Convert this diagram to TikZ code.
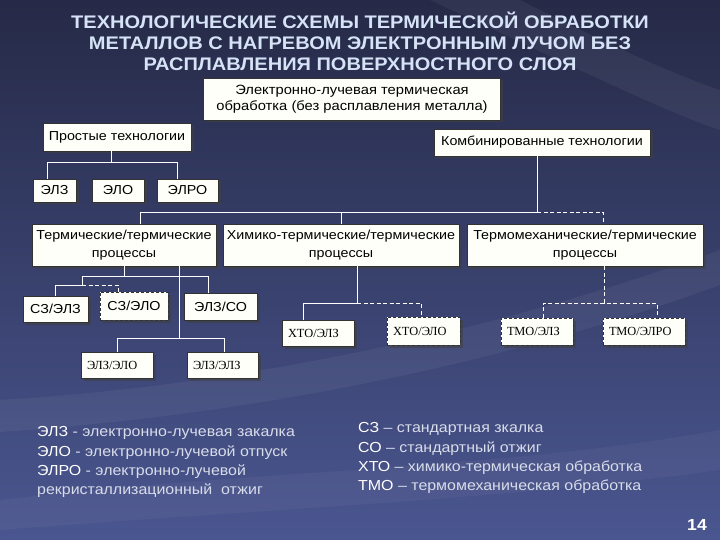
\documentclass[tikz,border=0pt]{standalone}
\usepackage{fontspec}
\setmainfont[FakeStretch=1.1]{Liberation Sans}
\newfontfamily\tmsfont{Liberation Serif}
\usetikzlibrary{positioning,shadows}
\definecolor{bgtop}{HTML}{262A47}
\definecolor{bgbot}{HTML}{4A5690}
\definecolor{titlecol}{HTML}{D6E3F6}
\definecolor{legcol}{HTML}{D8DDEA}
\definecolor{boxfill}{HTML}{FFFFF9}
\tikzset{
  box/.style   ={draw=black!80,line width=0.6pt,fill=boxfill,inner sep=2pt,align=center,
                 font=\fontsize{13}{17.5}\selectfont,
                 drop shadow={shadow xshift=2.5pt,shadow yshift=-2.5pt,fill=black!75,opacity=0.6}},
  dbox/.style  ={box,dash pattern=on 3pt off 2pt},
  tbox/.style  ={box,align=left,inner xsep=6pt,font=\tmsfont\fontsize{12.4}{14}\selectfont},
  dtbox/.style ={tbox,dash pattern=on 3pt off 2pt},
  link/.style  ={draw=white,line width=1pt},
  dlink/.style ={link,dash pattern=on 4pt off 2.5pt},
  legend/.style={anchor=north west,align=left,text=legcol,inner sep=0pt,
                 font=\fontsize{14.5}{19.2}\selectfont}
}

\begin{document}
\begin{tikzpicture}[x=1pt,y=-1pt]
  \useasboundingbox (0,0) rectangle (720,540);
  % background
  \fill[top color=bgtop,bottom color=bgbot] (0,0) rectangle (720,540);
  \fill[white,opacity=0.05] (0,400) .. controls (250,385) and (500,330) .. (720,250)
       -- (720,285) .. controls (500,365) and (250,415) .. (0,432) -- cycle;
  \fill[white,opacity=0.05] (430,0) .. controls (560,60) and (660,110) .. (720,130)
       -- (720,90) .. controls (660,70) and (580,30) .. (520,0) -- cycle;
  \fill[white,opacity=0.04] (0,500) .. controls (250,470) and (500,470) .. (720,430)
       -- (720,470) .. controls (500,500) and (250,510) .. (0,530) -- cycle;

  % title
  \node[text=titlecol,align=center,font=\bfseries\fontsize{18.2}{21}\selectfont] (title) at (360,41)
    {ТЕХНОЛОГИЧЕСКИЕ СХЕМЫ ТЕРМИЧЕСКОЙ ОБРАБОТКИ\\
     МЕТАЛЛОВ С НАГРЕВОМ ЭЛЕКТРОННЫМ ЛУЧОМ БЕЗ\\
     РАСПЛАВЛЕНИЯ ПОВЕРХНОСТНОГО СЛОЯ};

  % boxes
  \node[box,minimum width=297pt,minimum height=42pt,font=\fontsize{13.4}{16}\selectfont] (ebt) at (352,99)
    {Электронно-лучевая термическая\\обработка (без расплавления металла)};
  \node[box,minimum width=148pt,minimum height=28pt] (simple) at (117,137) {Простые технологии};
  \node[box,minimum width=216pt,minimum height=27pt] (comb) at (542,142.5) {Комбинированные технологии};

  \node[box,minimum width=43pt,minimum height=23pt] (elz) at (54.5,190.5) {ЭЛЗ};
  \node[box,minimum width=52pt,minimum height=23pt] (elo) at (118,190.5) {ЭЛО};
  \node[box,minimum width=61pt,minimum height=23pt] (elro) at (187.5,190.5) {ЭЛРО};

  \node[box,minimum width=184pt,minimum height=42pt] (therm) at (124,245) {Термические/термические\\процессы};
  \node[box,minimum width=236pt,minimum height=42pt] (chem) at (341,245) {Химико-термические/термические\\процессы};
  \node[box,minimum width=236pt,minimum height=42pt] (mech) at (585,245) {Термомеханические/термические\\процессы};

  \node[box,minimum width=65pt,minimum height=26pt] (szelz) at (55.5,309) {СЗ/ЭЛЗ};
  \node[dbox,minimum width=68pt,minimum height=28pt] (szelo) at (134,306) {СЗ/ЭЛО};
  \node[box,minimum width=73pt,minimum height=27pt] (elzso) at (220.5,306.5) {ЭЛЗ/СО};
  \node[tbox,text width=60pt,minimum height=26pt] (elzelo) at (117,365) {ЭЛЗ/ЭЛО};
  \node[tbox,text width=59pt,minimum height=26pt] (elzelz) at (222.5,365) {ЭЛЗ/ЭЛЗ};
  \node[tbox,text width=60pt,minimum height=26pt] (xtoelz) at (318,333) {ХТО/ЭЛЗ};
  \node[dtbox,text width=61pt,minimum height=28pt] (xtoelo) at (423.5,331) {ХТО/ЭЛО};
  \node[dtbox,text width=60pt,minimum height=27pt] (tmoelz) at (537,331.5) {ТМО/ЭЛЗ};
  \node[dtbox,text width=70pt,minimum height=27pt] (tmoelro) at (644,331.5) {ТМО/ЭЛРО};

  % simple technologies
  \draw[link] ([xshift=-6pt]simple.south) -- ++(0,11) coordinate (sbus);
  \draw[link] ([xshift=-7pt]elz.north) |- (sbus) -| ([xshift=-10pt]elro.north);

  % combined technologies
  \draw[link] ([xshift=-5pt]comb.south) -- ++(0,56) coordinate (cbus);
  \draw[link] ([xshift=16pt]therm.north) |- (cbus);
  \draw[link] (chem.north) -- (chem.north |- cbus);
  \draw[dlink] (cbus) -| ([xshift=18pt]mech.north);

  % thermal/thermal
  \draw[link] (therm.south) -- ++(0,10) coordinate (tbus);
  \draw[link] (tbus) -| ++(-42,9) coordinate (tsub);
  \draw[link] (tbus) -| ([xshift=-12.5pt]elzso.north);
  \draw[link] (szelz.north) |- (tsub);
  \draw[dlink] (tsub) -| ([xshift=-16pt]szelo.north);
  \draw[link] ([xshift=55pt]therm.south) -- ++(0,72) coordinate (tbus2);
  \draw[link] (elzelo.north) |- (tbus2) -| ([xshift=1.5pt]elzelz.north);

  % chemical-thermal
  \draw[link] ([xshift=16pt]chem.south) -- ++(0,37) coordinate (hbus);
  \draw[link] ([xshift=-15pt]xtoelz.north) |- (hbus);
  \draw[dlink] (hbus) -| ([xshift=-2.5pt]xtoelo.north);

  % thermomechanical
  \draw[dlink] ([xshift=19pt]mech.south) -- ++(0,37) coordinate (mbus);
  \draw[dlink] ([xshift=6pt]tmoelz.north) |- (mbus) -| ([xshift=13pt]tmoelro.north);

  % legend
  \node[legend] (legl) at (37,426.5)
    {{\color{white}ЭЛЗ} - электронно-лучевая закалка\\
     {\color{white}ЭЛО} - электронно-лучевой отпуск\\
     {\color{white}ЭЛРО} - электронно-лучевой\\
     рекристаллизационный \ отжиг};
  \node[legend] (legr) at (358,422.5)
    {{\color{white}СЗ} – стандартная зкалка\\
     {\color{white}СО} – стандартный отжиг\\
     {\color{white}ХТО} – химико-термическая обработка\\
     {\color{white}ТМО} – термомеханическая обработка};

  \node[text=white,font=\bfseries\fontsize{16}{18}\selectfont] (pnum) at (697,525) {14};
\end{tikzpicture}
\end{document}
